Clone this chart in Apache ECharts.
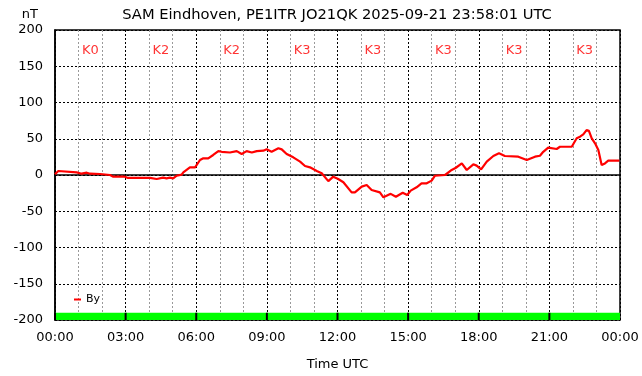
<!DOCTYPE html>
<html>
<head>
<meta charset="utf-8">
<script src="https://cdn.jsdelivr.net/npm/echarts@6/dist/echarts.min.js"></script>
<style>
  html, body { margin: 0; padding: 0; background: #fff; }
  #chart { width: 642px; height: 376px; }
</style>
</head>
<body>
<div id="chart"></div>
<script>
  // hours since 00:00 UTC and By in nT
  let hours = [0.00, 0.14, 0.92, 1.13, 1.35, 1.49, 1.91, 2.34, 2.46, 2.97, 3.10, 4.04, 4.32, 4.59, 4.74, 4.88,
    5.02, 5.17, 5.38, 5.45, 5.73, 5.95, 6.16, 6.30, 6.51, 6.72, 6.94, 7.08, 7.43, 7.72, 7.93, 8.14,
    8.36, 8.57, 8.85, 8.99, 9.20, 9.49, 9.63, 9.84, 10.12, 10.41, 10.62, 10.83, 11.12, 11.33, 11.61, 11.82,
    12.03, 12.25, 12.60, 12.74, 13.03, 13.24, 13.45, 13.80, 13.95, 14.26, 14.48, 14.77, 14.96, 15.11,
    15.36, 15.57, 15.79, 16.00, 16.14, 16.57, 16.85, 17.03, 17.28, 17.49, 17.77, 17.91, 18.10, 18.34,
    18.62, 18.86, 19.11, 19.68, 20.04, 20.39, 20.60, 20.74, 20.95, 21.31, 21.45, 21.95, 22.16, 22.30,
    22.44, 22.58, 22.68, 22.80, 22.94, 23.08, 23.22, 23.36, 23.50, 23.97];
  let by = [1, 5.5, 3.7, 1.8, 3.2, 1.8, 1.4, 0, -2.3, -2.3, -4, -4, -5.5, -3.7, -4.6, -3.7,
    -4.6, -1, 0.5, 3.7, 10.6, 10.6, 20.7, 23, 23, 27.6, 33, 32, 31, 33, 29, 33,
    31, 33, 33.5, 35.4, 32, 36.8, 35.4, 29, 24.4, 18.4, 12.4, 10.6, 5.5, 2.3, -8.5, -2.3,
    -5.5, -10, -23.9, -24, -16, -13.8, -20.7, -24, -30.8, -26, -29.9, -24.4, -27.6, -21.6,
    -17, -11.5, -11.5, -7.8, -1, 0, 6.9, 10, 16, 6.9, 14.7, 12.9, 7.8, 18.4,
    26.2, 29.9, 26.2, 25.3, 20.7, 25.3, 26.6, 32, 37.7, 35.9, 39, 39, 50.6, 52.9,
    56, 62, 61, 50.6, 43.7, 34.5, 13.8, 16, 19.7, 19.7];
  // K index per 3-hour block
  let kIndex = [0, 2, 2, 3, 3, 3, 3, 3];

  let chart = echarts.init(document.getElementById('chart'));
  let font = 'DejaVu Sans';

  let lineData = hours.map((h, i) => [h, by[i]]);
  let kBlocks = kIndex.map((k, i) => [i * 3, i * 3 + 3, k]);
  let kLabels = kIndex.map((k, i) => [i * 3 + 1.5, 172, 'K' + k]);

  function hhmm(v) {
    let h = Math.round(v) % 24;
    return (h < 10 ? '0' : '') + h + ':00';
  }

  let option = {
    animation: false,
    backgroundColor: '#fff',
    textStyle: { fontFamily: font },
    title: {
      text: 'SAM Eindhoven, PE1ITR JO21QK 2025-09-21 23:58:01 UTC',
      left: 332,
      textAlign: 'center',
      top: 3,
      textStyle: { fontFamily: font, fontSize: 14.7, fontWeight: 'normal', color: '#000' }
    },
    legend: {
      data: [{ name: 'By', icon: 'rect' }],
      left: 69,
      top: 289,
      itemWidth: 7,
      itemHeight: 2,
      textStyle: { fontFamily: font, fontSize: 11, color: '#000' }
    },
    grid: {
      left: 55, right: 22, top: 30, bottom: 56,
      outerBoundsMode: 'none',
      show: true, borderColor: '#000', borderWidth: 1.5
    },
    xAxis: {
      type: 'value',
      min: 0, max: 24, interval: 3,
      name: 'Time UTC',
      nameLocation: 'middle',
      nameGap: 38,
      nameTextStyle: { fontFamily: font, fontSize: 13, color: '#000' },
      axisLine: { show: true, lineStyle: { color: '#000', width: 1.5 } },
      axisTick: { show: false },
      axisLabel: { formatter: hhmm, margin: 11, fontFamily: font, fontSize: 13, color: '#000' },
      splitLine: { show: true, lineStyle: { color: '#000', type: [2, 2], width: 1 } },
      minorTick: { show: false, splitNumber: 3 },
      minorSplitLine: { show: true, lineStyle: { color: '#999', type: [2, 2], width: 1 } }
    },
    yAxis: {
      type: 'value',
      min: -200, max: 200, interval: 50,
      name: 'nT',
      nameLocation: 'end',
      nameGap: 15,
      nameTextStyle: { fontFamily: font, fontSize: 13, color: '#000', align: 'right', verticalAlign: 'middle', padding: [0, 17, 0, 0] },
      axisLine: { show: true, lineStyle: { color: '#000', width: 1.5 } },
      axisTick: { show: false },
      axisLabel: { margin: 12, fontFamily: font, fontSize: 13, color: '#000' },
      splitLine: { show: true, lineStyle: { color: '#000', type: [2, 2], width: 1 } }
    },
    series: [
      {
        name: 'K',
        type: 'custom',
        data: kBlocks,
        encode: { x: [0, 1] },
        silent: true,
        z: 1,
        renderItem: function (params, api) {
          let p0 = api.coord([api.value(0), -200]);
          let p1 = api.coord([api.value(1), -190]);
          return {
            type: 'group',
            children: [
              { type: 'rect', shape: { x: p0[0], y: p1[1], width: p1[0] - p0[0], height: p0[1] - p1[1] }, style: { fill: '#00ff00' } },
              { type: 'line', shape: { x1: p0[0], y1: p1[1], x2: p0[0], y2: p0[1] }, style: { stroke: '#000', lineWidth: 2 } }
            ]
          };
        }
      },
      {
        name: 'By',
        type: 'line',
        data: lineData,
        showSymbol: false,
        symbol: 'none',
        z: 3,
        lineStyle: { color: '#ff0000', width: 2.2 },
        itemStyle: { color: '#ff0000' }
      },
      {
        name: 'Klabel',
        type: 'scatter',
        data: kLabels,
        symbolSize: 0,
        silent: true,
        label: {
          show: true,
          position: 'inside',
          formatter: function (p) { return p.value[2]; },
          fontFamily: font,
          fontSize: 13,
          color: '#ff0000'
        }
      }
    ]
  };
  chart.setOption(option, true);
</script>
</body>
</html>
